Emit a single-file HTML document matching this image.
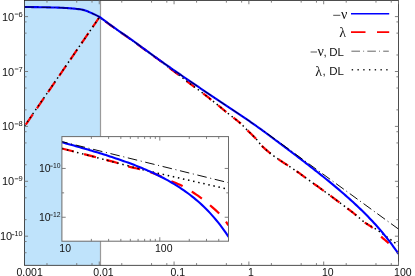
<!DOCTYPE html>
<html><head><meta charset="utf-8"><title>plot</title>
<style>
html,body{margin:0;padding:0;background:#fff;}
body{width:415px;height:276px;overflow:hidden;font-family:"Liberation Sans",sans-serif;}
svg{display:block;will-change:transform;}
</style></head><body>
<svg width="415" height="276" viewBox="0 0 415 276">
<rect x="0" y="0" width="415" height="276" fill="#fff"/>
<rect x="24.45" y="0.45" width="76.05" height="264.85" fill="#bfe3fb"/>
<line x1="100.5" y1="0.45" x2="100.5" y2="265.30" stroke="#9a9a9a" stroke-width="1.2"/>
<clipPath id="cm"><rect x="24.45" y="0.45" width="374.05" height="264.85"/></clipPath>
<g clip-path="url(#cm)" fill="none">
<path d="M24.50,126.50 L99.55,17.00" stroke="#ff0000" stroke-width="2.2" stroke-dasharray="12.3 7.4" stroke-dashoffset="-2.3"/>
<path d="M105.30,21.33 L106.00,21.86 L107.00,22.61 L108.00,23.35 L109.00,24.08 L110.00,24.80 L111.00,25.53 L112.00,26.25 L113.00,26.97 L114.00,27.69 L114.70,28.19" stroke="#ff0000" stroke-width="2.2"/>
<path d="M121.30,32.84 L122.00,33.32 L123.00,34.01 L124.00,34.70 L125.00,35.39 L126.00,36.08 L127.00,36.77 L128.00,37.46 L129.00,38.15 L130.00,38.85 L130.70,39.35" stroke="#ff0000" stroke-width="2.2"/>
<path d="M137.30,44.10 L138.00,44.61 L139.00,45.34 L140.00,46.08 L141.00,46.81 L142.00,47.55 L143.00,48.28 L144.00,49.02 L145.00,49.75 L146.00,50.48 L146.70,51.00" stroke="#ff0000" stroke-width="2.2"/>
<path d="M153.30,55.79 L154.00,56.30 L155.00,57.03 L156.00,57.75 L157.00,58.48 L158.00,59.20 L159.00,59.92 L160.00,60.64 L161.00,61.35 L162.00,62.06 L162.70,62.56" stroke="#ff0000" stroke-width="2.2"/>
<path d="M169.10,67.67 L170.00,68.35 L171.00,69.10 L172.00,69.86 L173.00,70.61 L174.00,71.36 L175.00,72.12 L176.00,72.87 L177.00,73.63 L178.00,74.39 L178.70,74.92" stroke="#ff0000" stroke-width="2.2"/>
<path d="M186.50,80.87 L187.00,81.26 L188.00,82.02 L189.00,82.79 L190.00,83.55 L191.00,84.31 L192.00,85.07 L193.00,85.82 L194.00,86.57 L194.60,87.01" stroke="#ff0000" stroke-width="2.2"/>
<path d="M203.20,93.45 L204.00,94.07 L205.00,94.84 L206.00,95.62 L207.00,96.40 L208.00,97.19 L209.00,97.98 L210.00,98.77 L211.00,99.56 L211.30,99.80" stroke="#ff0000" stroke-width="2.2"/>
<path d="M218.20,105.35 L219.00,106.00 L220.00,106.83 L221.00,107.66 L222.00,108.50 L223.00,109.33 L224.00,110.16 L225.00,111.00 L226.00,111.81 L226.30,112.05" stroke="#ff0000" stroke-width="2.2"/>
<path d="M233.40,117.64 L234.00,118.11 L235.00,118.89 L236.00,119.68 L237.00,120.46 L238.00,121.27 L239.00,122.08 L240.00,122.94 L240.80,123.64" stroke="#ff0000" stroke-width="2.2"/>
<path d="M247.50,130.39 L248.00,130.88 L249.00,131.87 L250.00,132.82 L251.00,133.78 L252.00,134.74 L253.00,135.70 L254.00,136.71 L255.00,137.71 L256.00,138.81" stroke="#ff0000" stroke-width="2.2"/>
<path d="M261.70,145.66 L262.00,145.97 L263.00,146.98 L264.00,147.90 L265.00,148.82 L266.00,149.70 L267.00,150.57 L268.00,151.41 L269.00,152.24 L270.00,153.04 L270.60,153.52" stroke="#ff0000" stroke-width="2.2"/>
<path d="M278.40,159.24 L279.00,159.65 L280.00,160.33 L281.00,161.00 L282.00,161.66 L283.00,162.33 L284.00,162.98 L285.00,163.63 L286.00,164.28 L287.00,164.93 L288.00,165.58" stroke="#ff0000" stroke-width="2.2"/>
<path d="M296.50,171.21 L297.00,171.55 L298.00,172.26 L299.00,172.96 L300.00,173.69 L301.00,174.41 L302.00,175.14 L303.00,175.86 L304.00,176.59 L305.00,177.31 L305.40,177.60" stroke="#ff0000" stroke-width="2.2"/>
<path d="M313.60,183.52 L314.00,183.81 L315.00,184.53 L316.00,185.25 L317.00,185.97 L318.00,186.69 L319.00,187.41 L320.00,188.14 L321.00,188.86 L322.00,189.58 L323.00,190.31 L323.80,190.89" stroke="#ff0000" stroke-width="2.2"/>
<path d="M330.40,195.70 L331.00,196.13 L332.00,196.87 L333.00,197.60 L334.00,198.34 L335.00,199.08 L336.00,199.82 L337.00,200.56 L338.00,201.31 L339.00,202.06 L339.50,202.43" stroke="#ff0000" stroke-width="2.2"/>
<path d="M347.30,208.30 L348.00,208.83 L349.00,209.59 L350.00,210.36 L351.00,211.14 L352.00,211.92 L353.00,212.70 L354.00,213.50 L355.00,214.29 L356.00,215.12 L356.30,215.37" stroke="#ff0000" stroke-width="2.2"/>
<path d="M364.80,222.51 L365.00,222.67 L366.00,223.34 L367.00,224.02 L368.00,224.65 L369.00,225.28 L370.00,225.93 L371.00,226.59 L372.00,227.34 L372.70,227.87" stroke="#ff0000" stroke-width="2.2"/>
<path d="M381.10,236.58 L382.00,237.39 L383.00,238.30 L384.00,239.15 L385.00,240.00 L386.00,240.85 L387.00,241.70 L388.00,242.60 L388.70,243.23" stroke="#ff0000" stroke-width="2.2"/>
<path d="M396.80,251.29 L397.00,251.50 L398.00,252.57 L398.10,252.68" stroke="#ff0000" stroke-width="2.2"/>
<path d="M24.50,126.00 L99.60,17.00 L100.50,17.83 L102.50,19.23 L104.50,20.72 L106.50,22.24 L108.50,23.72 L110.50,25.17 L112.50,26.61 L114.50,28.05 L116.50,29.48 L118.50,30.89 L120.50,32.29 L122.50,33.67 L124.50,35.04 L126.50,36.42 L128.50,37.80 L130.50,39.20 L132.50,40.63 L134.50,42.06 L136.50,43.52 L138.50,44.98 L140.50,46.44 L142.50,47.91 L144.50,49.38 L146.50,50.85 L148.50,52.31 L150.50,53.76 L152.50,55.21 L154.50,56.67 L156.50,58.11 L158.50,59.56 L160.50,61.00 L162.50,62.42 L164.50,63.83 L165.00,64.60 L167.00,66.10 L169.00,67.60 L171.00,69.10 L173.00,70.61 L175.00,72.12 L177.00,73.63 L179.00,75.14 L181.00,76.66 L183.00,78.19 L185.00,79.72 L187.00,81.26 L189.00,82.79 L191.00,84.31 L193.00,85.82 L195.00,87.31 L197.00,88.78 L199.00,90.25 L201.00,91.76 L203.00,93.29 L205.00,94.84 L207.00,96.40 L209.00,97.98 L211.00,99.56 L213.00,101.16 L215.00,102.76 L217.00,104.37 L219.00,106.00 L221.00,107.66 L223.00,109.33 L225.00,111.00 L227.00,112.62 L229.00,114.19 L231.00,115.75 L233.00,117.32 L235.00,118.89 L237.00,120.46 L239.00,122.08 L241.00,123.81 L243.00,125.74 L245.00,127.82 L247.00,129.90 L249.00,131.87 L251.00,133.78 L253.00,135.70 L255.00,137.71 L257.00,139.91 L259.00,142.46 L261.00,144.96 L263.00,146.98 L265.00,148.82 L267.00,150.57 L269.00,152.24 L271.00,153.84 L273.00,155.37 L275.00,156.85 L277.00,158.27 L279.00,159.65 L281.00,161.00 L283.00,162.33 L285.00,163.63 L287.00,164.93 L289.00,166.22 L291.00,167.53 L293.00,168.84 L295.00,170.18 L297.00,171.55 L299.00,172.96 L301.00,174.41 L303.00,175.86 L305.00,177.31 L307.00,178.76 L309.00,180.20 L311.00,181.64 L313.00,183.09 L315.00,184.53 L317.00,185.97 L319.00,187.41 L321.00,188.86 L323.00,190.31 L325.00,191.76 L327.00,193.21 L329.00,194.67 L331.00,196.13 L333.00,197.60 L335.00,199.08 L337.00,200.56 L339.00,202.06 L341.00,203.55 L343.00,205.05 L345.00,206.56 L347.00,208.07 L349.00,209.59 L351.00,211.14 L353.00,212.70 L355.00,214.29 L357.00,215.95 L359.00,217.68 L361.00,219.43 L363.00,221.12 L365.00,222.67 L377.20,229.89 L398.40,245.32" stroke="#000" stroke-width="1.5" stroke-dasharray="1.5 3.3"/>
<path d="M24.50,7.00 L26.00,7.01 L27.50,7.03 L29.00,7.04 L30.50,7.06 L32.00,7.08 L33.50,7.10 L35.00,7.12 L36.50,7.14 L38.00,7.17 L39.50,7.19 L41.00,7.22 L42.50,7.24 L44.00,7.27 L45.50,7.30 L47.00,7.33 L48.50,7.36 L50.00,7.40 L51.50,7.44 L53.00,7.48 L54.50,7.52 L56.00,7.56 L57.50,7.61 L59.00,7.66 L60.50,7.72 L62.00,7.79 L63.50,7.86 L65.00,7.95 L66.50,8.05 L68.00,8.15 L69.50,8.26 L71.00,8.38 L72.50,8.49 L74.00,8.62 L75.50,8.76 L77.00,8.92 L78.50,9.09 L80.00,9.30 L81.50,9.57 L83.00,9.89 L84.50,10.26 L86.00,10.72 L87.50,11.31 L89.00,11.94 L90.50,12.59 L92.00,13.27 L93.50,13.97 L95.00,14.67 L96.50,15.38 L98.00,16.13 L99.50,16.98 L101.00,17.97 L102.50,19.03 L104.00,20.14 L105.50,21.28 L107.00,22.41 L108.50,23.52 L110.00,24.60 L111.50,25.69 L113.00,26.77 L114.50,27.85 L116.00,28.92 L117.50,29.99 L119.00,31.04 L120.50,32.09 L122.00,33.13 L123.50,34.16 L125.00,35.19 L126.50,36.22 L128.00,37.26 L129.50,38.30 L131.00,39.36 L132.50,40.43 L134.00,41.50 L135.50,42.59 L137.00,43.68 L138.50,44.78 L140.00,45.88 L141.50,46.98 L143.00,48.08 L144.50,49.18 L146.00,50.28 L147.50,51.38 L149.00,52.47 L150.50,53.56 L152.00,54.65 L153.50,55.74 L155.00,56.83 L156.50,57.91 L158.00,59.00 L159.50,60.08 L161.00,61.15 L162.50,62.22 L164.00,63.28 L165.50,64.34 L167.00,65.39 L168.50,66.44 L170.00,67.48 L171.50,68.53 L173.00,69.57 L174.50,70.60 L176.00,71.64 L177.50,72.67 L179.00,73.70 L180.50,74.73 L182.00,75.75 L183.50,76.78 L185.00,77.80 L186.50,78.82 L188.00,79.84 L189.50,80.86 L191.00,81.88 L192.50,82.90 L194.00,83.92 L195.50,84.94 L197.00,85.96 L198.50,86.98 L200.00,88.00 L201.50,89.02 L203.00,90.04 L204.50,91.06 L206.00,92.08 L207.50,93.09 L209.00,94.11 L210.50,95.12 L212.00,96.13 L213.50,97.14 L215.00,98.15 L216.50,99.16 L218.00,100.16 L219.50,101.17 L221.00,102.17 L222.50,103.16 L224.00,104.15 L225.50,105.13 L227.00,106.11 L228.50,107.09 L230.00,108.07 L231.50,109.05 L233.00,110.04 L234.50,111.02 L236.00,112.02 L237.50,113.02 L239.00,114.02 L240.50,115.04 L242.00,116.06 L243.50,117.08 L245.00,118.11 L246.50,119.15 L248.00,120.18 L249.50,121.22 L251.00,122.27 L252.50,123.32 L254.00,124.37 L255.50,125.43 L257.00,126.49 L258.50,127.56 L260.00,128.63 L261.50,129.71 L263.00,130.80 L264.50,131.89 L266.00,133.00 L267.50,134.11 L269.00,135.23 L270.50,136.35 L272.00,137.48 L273.50,138.60 L275.00,139.72 L276.50,140.84 L278.00,141.96 L279.50,143.08 L281.00,144.20 L282.50,145.32 L284.00,146.45 L285.50,147.58 L287.00,148.70 L288.50,149.83 L290.00,150.97 L291.50,152.10 L293.00,153.24 L294.50,154.38 L296.00,155.52 L297.50,156.66 L299.00,157.81 L300.50,158.95 L302.00,160.10 L303.50,161.25 L305.00,162.40 L306.50,163.56 L308.00,164.72 L309.50,165.89 L311.00,167.06 L312.50,168.23 L314.00,169.40 L315.50,170.58 L317.00,171.77 L318.50,172.95 L320.00,174.15 L321.50,175.34 L323.00,176.54 L324.50,177.75 L326.00,178.96 L327.50,180.18 L329.00,181.41 L330.50,182.64 L332.00,183.87 L333.50,185.12 L335.00,186.37 L336.50,187.63 L338.00,188.89 L339.50,190.17 L341.00,191.45 L342.50,192.74 L344.00,194.04 L345.50,195.36 L347.00,196.68 L348.50,198.01 L350.00,199.36 L351.50,200.71 L353.00,202.08 L354.50,203.46 L356.00,204.86 L357.50,206.27 L359.00,207.69 L360.50,209.13 L362.00,210.59 L363.50,212.06 L365.00,213.56 L366.50,215.07 L368.00,216.60 L369.50,218.15 L371.00,219.72 L372.50,221.32 L374.00,222.94 L375.50,224.58 L377.00,226.26 L378.50,227.95 L380.00,229.68 L381.50,231.44 L383.00,233.23 L384.50,235.05 L386.00,236.90 L387.50,238.80 L389.00,240.73 L390.50,242.70 L392.00,244.71 L393.50,246.76 L395.00,248.86 L396.50,251.01 L398.00,253.21 L398.40,253.80" stroke="#0000ff" stroke-width="2.1" stroke-linejoin="round"/>
<path d="M24.50,7.00 L26.00,7.01 L27.50,7.03 L29.00,7.04 L30.50,7.06 L32.00,7.08 L33.50,7.10 L35.00,7.12 L36.50,7.14 L38.00,7.17 L39.50,7.19 L41.00,7.22 L42.50,7.24 L44.00,7.27 L45.50,7.30 L47.00,7.33 L48.50,7.36 L50.00,7.40 L51.50,7.44 L53.00,7.48 L54.50,7.52 L56.00,7.56 L57.50,7.61 L59.00,7.66 L60.50,7.72 L62.00,7.79 L63.50,7.86 L65.00,7.95 L66.50,8.05 L68.00,8.15 L69.50,8.26 L71.00,8.38 L72.50,8.49 L74.00,8.62 L75.50,8.76 L77.00,8.92 L78.50,9.09 L80.00,9.30 L81.50,9.57 L83.00,9.89 L84.50,10.26 L86.00,10.72 L87.50,11.31 L89.00,11.94 L90.50,12.59 L92.00,13.27 L93.50,13.97 L95.00,14.67 L96.50,15.38 L98.00,16.13 L99.50,16.98 L101.00,17.97 L102.50,19.03 L104.00,20.14 L105.50,21.28 L107.00,22.41 L108.50,23.52 L110.00,24.60 L111.50,25.69 L113.00,26.77 L114.50,27.85 L116.00,28.92 L117.50,29.99 L119.00,31.04 L120.50,32.09 L122.00,33.13 L123.50,34.16 L125.00,35.19 L126.50,36.22 L128.00,37.26 L129.50,38.30 L131.00,39.36 L132.50,40.43 L134.00,41.50 L135.50,42.59 L137.00,43.68 L138.50,44.78 L140.00,45.88 L141.50,46.98 L143.00,48.08 L144.50,49.18 L146.00,50.28 L147.50,51.38 L149.00,52.47 L150.50,53.56 L152.00,54.65 L153.50,55.74 L155.00,56.83 L156.50,57.91 L158.00,59.00 L159.50,60.08 L161.00,61.15 L162.50,62.22 L164.00,63.28 L165.50,64.34 L167.00,65.39 L168.50,66.44 L170.00,67.48 L171.50,68.53 L173.00,69.57 L174.50,70.60 L176.00,71.64 L177.50,72.67 L179.00,73.70 L180.50,74.73 L182.00,75.75 L183.50,76.78 L185.00,77.80 L186.50,78.82 L188.00,79.84 L189.50,80.86 L191.00,81.88 L192.50,82.90 L194.00,83.92 L195.50,84.94 L197.00,85.96 L198.50,86.98 L200.00,88.00 L201.50,89.02 L203.00,90.04 L204.50,91.06 L206.00,92.08 L207.50,93.09 L209.00,94.11 L210.50,95.12 L212.00,96.13 L213.50,97.14 L215.00,98.15 L216.50,99.16 L218.00,100.16 L219.50,101.17 L221.00,102.17 L222.50,103.16 L224.00,104.15 L225.50,105.13 L227.00,106.11 L228.50,107.09 L230.00,108.07 L231.50,109.05 L233.00,110.04 L234.50,111.02 L236.00,112.02 L237.50,113.02 L239.00,114.02 L240.50,115.04 L242.00,116.06 L243.50,117.08 L245.00,118.11 L246.50,119.15 L248.00,120.18 L249.50,121.22 L251.00,122.27 L252.50,123.32 L254.00,124.37 L255.50,125.43 L257.00,126.49 L258.50,127.56 L260.00,128.63 L261.50,129.71" stroke="#000" stroke-width="0.75" stroke-dasharray="9.6 3.2 1 3.2"/>
<path d="M262.00,129.70 L398.40,229.00" stroke="#000" stroke-width="0.95" stroke-dasharray="9.6 3.2 1 3.2" stroke-dashoffset="-6.6"/>
</g>
<rect x="24.45" y="0.45" width="374.05" height="264.85" fill="none" stroke="#222" stroke-width="0.8"/>
<line x1="46.97" y1="265.30" x2="46.97" y2="263.10" stroke="#707070" stroke-width="0.9"/>
<line x1="46.97" y1="0.45" x2="46.97" y2="2.65" stroke="#707070" stroke-width="0.9"/>
<line x1="76.74" y1="265.30" x2="76.74" y2="263.10" stroke="#707070" stroke-width="0.9"/>
<line x1="76.74" y1="0.45" x2="76.74" y2="2.65" stroke="#707070" stroke-width="0.9"/>
<line x1="92.01" y1="265.30" x2="92.01" y2="263.10" stroke="#707070" stroke-width="0.9"/>
<line x1="92.01" y1="0.45" x2="92.01" y2="2.65" stroke="#707070" stroke-width="0.9"/>
<line x1="99.26" y1="265.30" x2="99.26" y2="261.50" stroke="#707070" stroke-width="0.9"/>
<line x1="99.26" y1="0.45" x2="99.26" y2="4.25" stroke="#707070" stroke-width="0.9"/>
<line x1="121.78" y1="265.30" x2="121.78" y2="263.10" stroke="#707070" stroke-width="0.9"/>
<line x1="121.78" y1="0.45" x2="121.78" y2="2.65" stroke="#707070" stroke-width="0.9"/>
<line x1="151.55" y1="265.30" x2="151.55" y2="263.10" stroke="#707070" stroke-width="0.9"/>
<line x1="151.55" y1="0.45" x2="151.55" y2="2.65" stroke="#707070" stroke-width="0.9"/>
<line x1="166.82" y1="265.30" x2="166.82" y2="263.10" stroke="#707070" stroke-width="0.9"/>
<line x1="166.82" y1="0.45" x2="166.82" y2="2.65" stroke="#707070" stroke-width="0.9"/>
<line x1="174.07" y1="265.30" x2="174.07" y2="261.50" stroke="#707070" stroke-width="0.9"/>
<line x1="174.07" y1="0.45" x2="174.07" y2="4.25" stroke="#707070" stroke-width="0.9"/>
<line x1="196.59" y1="265.30" x2="196.59" y2="263.10" stroke="#707070" stroke-width="0.9"/>
<line x1="196.59" y1="0.45" x2="196.59" y2="2.65" stroke="#707070" stroke-width="0.9"/>
<line x1="226.36" y1="265.30" x2="226.36" y2="263.10" stroke="#707070" stroke-width="0.9"/>
<line x1="226.36" y1="0.45" x2="226.36" y2="2.65" stroke="#707070" stroke-width="0.9"/>
<line x1="241.63" y1="265.30" x2="241.63" y2="263.10" stroke="#707070" stroke-width="0.9"/>
<line x1="241.63" y1="0.45" x2="241.63" y2="2.65" stroke="#707070" stroke-width="0.9"/>
<line x1="248.88" y1="265.30" x2="248.88" y2="261.50" stroke="#707070" stroke-width="0.9"/>
<line x1="248.88" y1="0.45" x2="248.88" y2="4.25" stroke="#707070" stroke-width="0.9"/>
<line x1="271.40" y1="265.30" x2="271.40" y2="263.10" stroke="#707070" stroke-width="0.9"/>
<line x1="271.40" y1="0.45" x2="271.40" y2="2.65" stroke="#707070" stroke-width="0.9"/>
<line x1="301.17" y1="265.30" x2="301.17" y2="263.10" stroke="#707070" stroke-width="0.9"/>
<line x1="301.17" y1="0.45" x2="301.17" y2="2.65" stroke="#707070" stroke-width="0.9"/>
<line x1="316.44" y1="265.30" x2="316.44" y2="263.10" stroke="#707070" stroke-width="0.9"/>
<line x1="316.44" y1="0.45" x2="316.44" y2="2.65" stroke="#707070" stroke-width="0.9"/>
<line x1="323.69" y1="265.30" x2="323.69" y2="261.50" stroke="#707070" stroke-width="0.9"/>
<line x1="323.69" y1="0.45" x2="323.69" y2="4.25" stroke="#707070" stroke-width="0.9"/>
<line x1="346.21" y1="265.30" x2="346.21" y2="263.10" stroke="#707070" stroke-width="0.9"/>
<line x1="346.21" y1="0.45" x2="346.21" y2="2.65" stroke="#707070" stroke-width="0.9"/>
<line x1="375.98" y1="265.30" x2="375.98" y2="263.10" stroke="#707070" stroke-width="0.9"/>
<line x1="375.98" y1="0.45" x2="375.98" y2="2.65" stroke="#707070" stroke-width="0.9"/>
<line x1="391.25" y1="265.30" x2="391.25" y2="263.10" stroke="#707070" stroke-width="0.9"/>
<line x1="391.25" y1="0.45" x2="391.25" y2="2.65" stroke="#707070" stroke-width="0.9"/>
<line x1="398.50" y1="265.30" x2="398.50" y2="261.50" stroke="#707070" stroke-width="0.9"/>
<line x1="398.50" y1="0.45" x2="398.50" y2="4.25" stroke="#707070" stroke-width="0.9"/>
<line x1="421.02" y1="265.30" x2="421.02" y2="263.10" stroke="#707070" stroke-width="0.9"/>
<line x1="421.02" y1="0.45" x2="421.02" y2="2.65" stroke="#707070" stroke-width="0.9"/>
<line x1="450.79" y1="265.30" x2="450.79" y2="263.10" stroke="#707070" stroke-width="0.9"/>
<line x1="450.79" y1="0.45" x2="450.79" y2="2.65" stroke="#707070" stroke-width="0.9"/>
<line x1="466.06" y1="265.30" x2="466.06" y2="263.10" stroke="#707070" stroke-width="0.9"/>
<line x1="466.06" y1="0.45" x2="466.06" y2="2.65" stroke="#707070" stroke-width="0.9"/>
<line x1="24.45" y1="252.73" x2="26.55" y2="252.73" stroke="#707070" stroke-width="0.9"/>
<line x1="398.50" y1="252.73" x2="396.40" y2="252.73" stroke="#707070" stroke-width="0.9"/>
<line x1="24.45" y1="241.52" x2="26.55" y2="241.52" stroke="#707070" stroke-width="0.9"/>
<line x1="398.50" y1="241.52" x2="396.40" y2="241.52" stroke="#707070" stroke-width="0.9"/>
<line x1="24.45" y1="236.20" x2="28.05" y2="236.20" stroke="#707070" stroke-width="0.9"/>
<line x1="398.50" y1="236.20" x2="394.90" y2="236.20" stroke="#707070" stroke-width="0.9"/>
<line x1="24.45" y1="219.67" x2="26.55" y2="219.67" stroke="#707070" stroke-width="0.9"/>
<line x1="398.50" y1="219.67" x2="396.40" y2="219.67" stroke="#707070" stroke-width="0.9"/>
<line x1="24.45" y1="197.83" x2="26.55" y2="197.83" stroke="#707070" stroke-width="0.9"/>
<line x1="398.50" y1="197.83" x2="396.40" y2="197.83" stroke="#707070" stroke-width="0.9"/>
<line x1="24.45" y1="186.62" x2="26.55" y2="186.62" stroke="#707070" stroke-width="0.9"/>
<line x1="398.50" y1="186.62" x2="396.40" y2="186.62" stroke="#707070" stroke-width="0.9"/>
<line x1="24.45" y1="181.30" x2="28.05" y2="181.30" stroke="#707070" stroke-width="0.9"/>
<line x1="398.50" y1="181.30" x2="394.90" y2="181.30" stroke="#707070" stroke-width="0.9"/>
<line x1="24.45" y1="164.77" x2="26.55" y2="164.77" stroke="#707070" stroke-width="0.9"/>
<line x1="398.50" y1="164.77" x2="396.40" y2="164.77" stroke="#707070" stroke-width="0.9"/>
<line x1="24.45" y1="142.93" x2="26.55" y2="142.93" stroke="#707070" stroke-width="0.9"/>
<line x1="398.50" y1="142.93" x2="396.40" y2="142.93" stroke="#707070" stroke-width="0.9"/>
<line x1="24.45" y1="131.72" x2="26.55" y2="131.72" stroke="#707070" stroke-width="0.9"/>
<line x1="398.50" y1="131.72" x2="396.40" y2="131.72" stroke="#707070" stroke-width="0.9"/>
<line x1="24.45" y1="126.40" x2="28.05" y2="126.40" stroke="#707070" stroke-width="0.9"/>
<line x1="398.50" y1="126.40" x2="394.90" y2="126.40" stroke="#707070" stroke-width="0.9"/>
<line x1="24.45" y1="109.87" x2="26.55" y2="109.87" stroke="#707070" stroke-width="0.9"/>
<line x1="398.50" y1="109.87" x2="396.40" y2="109.87" stroke="#707070" stroke-width="0.9"/>
<line x1="24.45" y1="88.03" x2="26.55" y2="88.03" stroke="#707070" stroke-width="0.9"/>
<line x1="398.50" y1="88.03" x2="396.40" y2="88.03" stroke="#707070" stroke-width="0.9"/>
<line x1="24.45" y1="76.82" x2="26.55" y2="76.82" stroke="#707070" stroke-width="0.9"/>
<line x1="398.50" y1="76.82" x2="396.40" y2="76.82" stroke="#707070" stroke-width="0.9"/>
<line x1="24.45" y1="71.50" x2="28.05" y2="71.50" stroke="#707070" stroke-width="0.9"/>
<line x1="398.50" y1="71.50" x2="394.90" y2="71.50" stroke="#707070" stroke-width="0.9"/>
<line x1="24.45" y1="54.97" x2="26.55" y2="54.97" stroke="#707070" stroke-width="0.9"/>
<line x1="398.50" y1="54.97" x2="396.40" y2="54.97" stroke="#707070" stroke-width="0.9"/>
<line x1="24.45" y1="33.13" x2="26.55" y2="33.13" stroke="#707070" stroke-width="0.9"/>
<line x1="398.50" y1="33.13" x2="396.40" y2="33.13" stroke="#707070" stroke-width="0.9"/>
<line x1="24.45" y1="21.92" x2="26.55" y2="21.92" stroke="#707070" stroke-width="0.9"/>
<line x1="398.50" y1="21.92" x2="396.40" y2="21.92" stroke="#707070" stroke-width="0.9"/>
<line x1="24.45" y1="16.60" x2="28.05" y2="16.60" stroke="#707070" stroke-width="0.9"/>
<line x1="398.50" y1="16.60" x2="394.90" y2="16.60" stroke="#707070" stroke-width="0.9"/>
<rect x="61.90" y="136.60" width="166.60" height="104.60" fill="#fff"/>
<clipPath id="ci"><rect x="61.90" y="136.60" width="166.60" height="104.60"/></clipPath>
<g clip-path="url(#ci)" fill="none">
<path d="M61.90,148.50 L63.90,149.00 L65.90,149.50 L67.90,150.01 L69.90,150.51 L71.90,151.02 L73.90,151.53 L75.90,152.04 L77.90,152.55 L79.90,153.06 L81.90,153.57 L83.90,154.09 L85.90,154.60 L87.90,155.12 L89.90,155.63 L91.90,156.15 L93.90,156.68 L95.90,157.20 L97.90,157.72 L99.90,158.24 L101.90,158.76 L103.90,159.28 L105.90,159.80 L107.90,160.32 L109.90,160.85 L111.90,161.39 L113.90,161.93 L115.90,162.49 L117.90,163.07 L119.90,163.66 L121.90,164.31 L123.90,164.99 L125.90,165.66 L127.90,166.30 L129.90,166.87 L131.90,167.37 L133.90,167.82 L135.90,168.24 L137.90,168.67 L139.90,169.15 L141.90,169.67 L143.90,170.22 L145.90,170.79 L147.90,171.39 L149.90,172.02 L151.90,172.69 L153.90,173.40 L155.90,174.18 L157.90,175.01 L159.90,175.89 L161.90,176.81 L163.90,177.74 L165.90,178.68 L167.90,179.61 L169.90,180.52 L171.90,181.40 L173.90,182.25 L175.90,183.07 L177.90,183.92 L179.90,184.80 L181.90,185.75 L183.90,186.80 L185.90,187.95 L187.90,189.17 L189.90,190.42 L191.90,191.69 L193.90,192.98 L195.90,194.32 L197.90,195.69 L199.90,197.11 L201.90,198.57 L203.90,200.12 L205.90,201.75 L207.90,203.43 L209.90,205.14 L211.90,206.84 L213.90,208.59 L215.90,210.40 L217.90,212.30 L219.90,214.33 L221.90,216.50 L223.90,218.86 L225.90,221.50 L227.90,224.54 L228.50,225.50" stroke="#ff0000" stroke-width="2.2" stroke-dasharray="12.3 10.6" stroke-dashoffset="0"/>
<path d="M61.90,148.50 L130.00,166.30 L143.80,170.00 L189.10,180.30 L228.50,189.30" stroke="#000" stroke-width="1.5" stroke-dasharray="1.5 3.7"/>
<path d="M61.90,142.28 L63.90,142.83 L65.90,143.38 L67.90,143.93 L69.90,144.48 L71.90,145.04 L73.90,145.60 L75.90,146.16 L77.90,146.73 L79.90,147.29 L81.90,147.87 L83.90,148.44 L85.90,149.03 L87.90,149.61 L89.90,150.20 L91.90,150.79 L93.90,151.39 L95.90,152.00 L97.90,152.61 L99.90,153.22 L101.90,153.84 L103.90,154.47 L105.90,155.10 L107.90,155.74 L109.90,156.39 L111.90,157.05 L113.90,157.71 L115.90,158.38 L117.90,159.06 L119.90,159.75 L121.90,160.44 L123.90,161.15 L125.90,161.87 L127.90,162.60 L129.90,163.34 L131.90,164.09 L133.90,164.85 L135.90,165.63 L137.90,166.42 L139.90,167.23 L141.90,168.05 L143.90,168.88 L145.90,169.73 L147.90,170.60 L149.90,171.49 L151.90,172.40 L153.90,173.32 L155.90,174.27 L157.90,175.24 L159.90,176.23 L161.90,177.25 L163.90,178.29 L165.90,179.36 L167.90,180.45 L169.90,181.58 L171.90,182.73 L173.90,183.92 L175.90,185.14 L177.90,186.40 L179.90,187.69 L181.90,189.02 L183.90,190.39 L185.90,191.80 L187.90,193.26 L189.90,194.76 L191.90,196.31 L193.90,197.92 L195.90,199.57 L197.90,201.29 L199.90,203.06 L201.90,204.89 L203.90,206.79 L205.90,208.75 L207.90,210.79 L209.90,212.90 L211.90,215.09 L213.90,217.36 L215.90,219.71 L217.90,222.16 L219.90,224.70 L221.90,227.34 L223.90,230.08 L225.90,232.93 L227.90,235.89 L228.50,236.80" stroke="#0000ff" stroke-width="2.1" stroke-linejoin="round"/>
<path d="M61.90,141.60 L228.50,182.70" stroke="#000" stroke-width="0.95" stroke-dasharray="9.6 3.65 1 3.65" stroke-dashoffset="-14.2"/>
</g>
<rect x="61.90" y="136.60" width="166.60" height="104.60" fill="none" stroke="#6a6a6a" stroke-width="1"/>
<line x1="91.37" y1="241.20" x2="91.37" y2="238.90" stroke="#707070" stroke-width="0.9"/>
<line x1="91.37" y1="136.60" x2="91.37" y2="138.90" stroke="#707070" stroke-width="0.9"/>
<line x1="108.61" y1="241.20" x2="108.61" y2="238.90" stroke="#707070" stroke-width="0.9"/>
<line x1="108.61" y1="136.60" x2="108.61" y2="138.90" stroke="#707070" stroke-width="0.9"/>
<line x1="120.84" y1="241.20" x2="120.84" y2="238.90" stroke="#707070" stroke-width="0.9"/>
<line x1="120.84" y1="136.60" x2="120.84" y2="138.90" stroke="#707070" stroke-width="0.9"/>
<line x1="130.33" y1="241.20" x2="130.33" y2="238.90" stroke="#707070" stroke-width="0.9"/>
<line x1="130.33" y1="136.60" x2="130.33" y2="138.90" stroke="#707070" stroke-width="0.9"/>
<line x1="138.08" y1="241.20" x2="138.08" y2="238.90" stroke="#707070" stroke-width="0.9"/>
<line x1="138.08" y1="136.60" x2="138.08" y2="138.90" stroke="#707070" stroke-width="0.9"/>
<line x1="144.64" y1="241.20" x2="144.64" y2="238.90" stroke="#707070" stroke-width="0.9"/>
<line x1="144.64" y1="136.60" x2="144.64" y2="138.90" stroke="#707070" stroke-width="0.9"/>
<line x1="150.31" y1="241.20" x2="150.31" y2="238.90" stroke="#707070" stroke-width="0.9"/>
<line x1="150.31" y1="136.60" x2="150.31" y2="138.90" stroke="#707070" stroke-width="0.9"/>
<line x1="155.32" y1="241.20" x2="155.32" y2="238.90" stroke="#707070" stroke-width="0.9"/>
<line x1="155.32" y1="136.60" x2="155.32" y2="138.90" stroke="#707070" stroke-width="0.9"/>
<line x1="159.80" y1="241.20" x2="159.80" y2="237.20" stroke="#707070" stroke-width="0.9"/>
<line x1="159.80" y1="136.60" x2="159.80" y2="140.60" stroke="#707070" stroke-width="0.9"/>
<line x1="189.27" y1="241.20" x2="189.27" y2="238.90" stroke="#707070" stroke-width="0.9"/>
<line x1="189.27" y1="136.60" x2="189.27" y2="138.90" stroke="#707070" stroke-width="0.9"/>
<line x1="206.51" y1="241.20" x2="206.51" y2="238.90" stroke="#707070" stroke-width="0.9"/>
<line x1="206.51" y1="136.60" x2="206.51" y2="138.90" stroke="#707070" stroke-width="0.9"/>
<line x1="218.74" y1="241.20" x2="218.74" y2="238.90" stroke="#707070" stroke-width="0.9"/>
<line x1="218.74" y1="136.60" x2="218.74" y2="138.90" stroke="#707070" stroke-width="0.9"/>
<line x1="61.90" y1="217.25" x2="65.70" y2="217.25" stroke="#707070" stroke-width="0.9"/>
<line x1="228.50" y1="217.25" x2="224.70" y2="217.25" stroke="#707070" stroke-width="0.9"/>
<line x1="61.90" y1="192.85" x2="64.10" y2="192.85" stroke="#707070" stroke-width="0.9"/>
<line x1="228.50" y1="192.85" x2="226.30" y2="192.85" stroke="#707070" stroke-width="0.9"/>
<line x1="61.90" y1="168.45" x2="65.70" y2="168.45" stroke="#707070" stroke-width="0.9"/>
<line x1="228.50" y1="168.45" x2="224.70" y2="168.45" stroke="#707070" stroke-width="0.9"/>
<line x1="351" y1="13.7" x2="389.2" y2="13.7" stroke="#0000ff" stroke-width="1.6"/>
<line x1="351" y1="32.15" x2="389.2" y2="32.15" stroke="#ff0000" stroke-width="1.8" stroke-dasharray="14.5 11.5"/>
<line x1="351.4" y1="51.2" x2="388.8" y2="51.2" stroke="#555" stroke-width="0.9" stroke-dasharray="8.6 3.2 0.9 3.2"/>
<line x1="351.7" y1="69.7" x2="389.2" y2="69.7" stroke="#222" stroke-width="1.4" stroke-dasharray="1.4 4.35"/>
<text x="29.65" y="276.00" font-family="Liberation Sans" font-size="10.5" text-anchor="middle" fill="#111" >0.001</text>
<text x="103.45" y="276.00" font-family="Liberation Sans" font-size="10.5" text-anchor="middle" fill="#111" >0.01</text>
<text x="177.70" y="276.00" font-family="Liberation Sans" font-size="10.5" text-anchor="middle" fill="#111" >0.1</text>
<text x="251.00" y="276.00" font-family="Liberation Sans" font-size="10.5" text-anchor="middle" fill="#111" >1</text>
<text x="327.75" y="276.00" font-family="Liberation Sans" font-size="10.5" text-anchor="middle" fill="#111" >10</text>
<text x="402.85" y="276.00" font-family="Liberation Sans" font-size="10.5" text-anchor="middle" fill="#111" >100</text>
<text x="1.90" y="20.60" font-family="Liberation Sans" font-size="11" text-anchor="start" fill="#111" >10</text>
<line x1="14.80" y1="14.10" x2="18.40" y2="14.10" stroke="#222" stroke-width="0.8"/>
<text x="18.60" y="16.60" font-family="Liberation Sans" font-size="7.5" text-anchor="start" fill="#111" >6</text>
<text x="1.90" y="75.50" font-family="Liberation Sans" font-size="11" text-anchor="start" fill="#111" >10</text>
<line x1="14.80" y1="69.00" x2="18.40" y2="69.00" stroke="#222" stroke-width="0.8"/>
<text x="18.60" y="71.50" font-family="Liberation Sans" font-size="7.5" text-anchor="start" fill="#111" >7</text>
<text x="1.90" y="130.40" font-family="Liberation Sans" font-size="11" text-anchor="start" fill="#111" >10</text>
<line x1="14.80" y1="123.90" x2="18.40" y2="123.90" stroke="#222" stroke-width="0.8"/>
<text x="18.60" y="126.40" font-family="Liberation Sans" font-size="7.5" text-anchor="start" fill="#111" >8</text>
<text x="1.90" y="185.30" font-family="Liberation Sans" font-size="11" text-anchor="start" fill="#111" >10</text>
<line x1="14.80" y1="178.80" x2="18.40" y2="178.80" stroke="#222" stroke-width="0.8"/>
<text x="18.60" y="181.30" font-family="Liberation Sans" font-size="7.5" text-anchor="start" fill="#111" >9</text>
<text x="-0.10" y="240.20" font-family="Liberation Sans" font-size="11" text-anchor="start" fill="#111" >10</text>
<line x1="11.70" y1="234.70" x2="14.30" y2="234.70" stroke="#222" stroke-width="0.8"/>
<text x="14.50" y="235.70" font-family="Liberation Sans" font-size="7.3" text-anchor="start" fill="#111" >10</text>
<text x="39.00" y="172.15" font-family="Liberation Sans" font-size="10.5" text-anchor="start" fill="#111" >10</text>
<line x1="50.10" y1="166.15" x2="52.70" y2="166.15" stroke="#222" stroke-width="0.8"/>
<text x="52.90" y="167.65" font-family="Liberation Sans" font-size="6.8" text-anchor="start" fill="#111" >10</text>
<text x="39.00" y="221.00" font-family="Liberation Sans" font-size="10.5" text-anchor="start" fill="#111" >10</text>
<line x1="50.10" y1="215.00" x2="52.70" y2="215.00" stroke="#222" stroke-width="0.8"/>
<text x="52.90" y="216.50" font-family="Liberation Sans" font-size="6.8" text-anchor="start" fill="#111" >12</text>
<text x="65.20" y="252.30" font-family="Liberation Sans" font-size="10.5" text-anchor="middle" fill="#111" >10</text>
<text x="163.80" y="252.30" font-family="Liberation Sans" font-size="10.5" text-anchor="middle" fill="#111" >100</text>
<line x1="333.20" y1="15.30" x2="340.30" y2="15.30" stroke="#222" stroke-width="0.8"/>
<text x="341.00" y="18.90" font-family="Liberation Serif" font-size="14" text-anchor="start" fill="#111" >ν</text>
<text x="339.30" y="37.10" font-family="Liberation Serif" font-size="14" text-anchor="start" fill="#111" >λ</text>
<line x1="310.60" y1="52.00" x2="317.00" y2="52.00" stroke="#333" stroke-width="0.8"/>
<text x="317.60" y="55.50" font-family="Liberation Serif" font-size="14" text-anchor="start" fill="#111" >ν</text>
<text x="323.60" y="55.60" font-family="Liberation Sans" font-size="11.5" text-anchor="start" fill="#111" >,</text>
<text x="329.20" y="55.60" font-family="Liberation Sans" font-size="11.5" text-anchor="start" fill="#111" >DL</text>
<text x="315.30" y="76.00" font-family="Liberation Serif" font-size="14" text-anchor="start" fill="#111" >λ</text>
<text x="322.40" y="75.00" font-family="Liberation Sans" font-size="11.5" text-anchor="start" fill="#111" >,</text>
<text x="329.20" y="75.00" font-family="Liberation Sans" font-size="11.5" text-anchor="start" fill="#111" >DL</text>
</svg>
</body></html>
